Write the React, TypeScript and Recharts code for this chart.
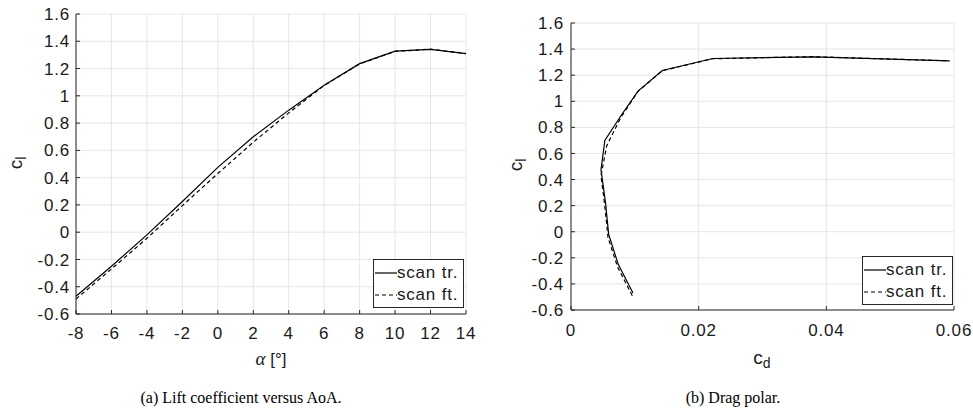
import React from "react"
import { CartesianGrid, Line, LineChart, XAxis, YAxis } from "recharts"

// angle of attack [deg]
const alpha = [-8, -6, -4, -2, 0, 2, 4, 6, 8, 10, 12, 14]
// lift coefficient, two scans
const clTr = [-0.47, -0.25, -0.02, 0.225, 0.475, 0.7, 0.895, 1.078, 1.236, 1.328, 1.34, 1.31]
const clFt = [-0.49, -0.27, -0.045, 0.195, 0.43, 0.66, 0.875, 1.076, 1.234, 1.326, 1.342, 1.31]
// drag coefficient, two scans
const cdTr = [0.0097, 0.0074, 0.0059, 0.0054, 0.0047, 0.0053, 0.0079, 0.0105, 0.0143, 0.0222, 0.038, 0.0593]
const cdFt = [0.0096, 0.0073, 0.0058, 0.0053, 0.0047, 0.0056, 0.0078, 0.0105, 0.0143, 0.0222, 0.0378, 0.0593]

const clTicks = [-0.6, -0.4, -0.2, 0, 0.2, 0.4, 0.6, 0.8, 1, 1.2, 1.4, 1.6]
const alphaTicks = [-8, -6, -4, -2, 0, 2, 4, 6, 8, 10, 12, 14]
const cdTicks = [0, 0.02, 0.04, 0.06]

const seriesNames = ["scan tr.", "scan ft."]

const liftData = alpha.map((a, i) => ({ alpha: a, tr: clTr[i], ft: clFt[i] }))
const polarTr = cdTr.map((cd, i) => ({ cd, cl: clTr[i] }))
const polarFt = cdFt.map((cd, i) => ({ cd, cl: clFt[i] }))

const SANS = '"Liberation Sans", Arial, Helvetica, sans-serif'
const SERIF = '"Liberation Serif", "Times New Roman", serif'
const AXIS = "#262626"
const GRID = "#e6e6e6"
const TXT = "#1a1a1a"
const DASH = "4 3"
const FS = 17

const fmt1 = (v: number) => String(Math.round(v * 10) / 10)
const fmt2 = (v: number) => String(Math.round(v * 100) / 100)

// custom tick text so size/spacing are exact
const BottomTick = (fmt: (v: number) => string) => (props: any) => {
  const { x, y, payload } = props
  return (
    <text
      x={x}
      y={y}
      dy={FS * 0.72}
      textAnchor="middle"
      fontFamily={SANS}
      fontSize={FS}
      letterSpacing={0.8}
      fill={TXT}
    >
      {fmt(payload.value)}
    </text>
  )
}

const LeftTick = (props: any) => {
  const { x, y, payload } = props
  return (
    <text
      x={x}
      y={y}
      dy={FS * 0.36}
      textAnchor="end"
      fontFamily={SANS}
      fontSize={FS}
      letterSpacing={0.8}
      fill={TXT}
    >
      {fmt1(payload.value)}
    </text>
  )
}

function LegendBox({ left, top }: { left: number; top: number }) {
  return (
    <div
      style={{
        position: "absolute",
        left,
        top,
        width: 91,
        height: 49,
        boxSizing: "border-box",
        border: `1px solid ${AXIS}`,
        background: "#fff",
        fontFamily: SANS,
        fontSize: FS,
        letterSpacing: 0.8,
        color: TXT,
        paddingTop: 2,
      }}
    >
      {seriesNames.map((name, i) => (
        <div key={name} style={{ display: "flex", alignItems: "center", height: 22 }}>
          <svg width={22} height={10} style={{ marginLeft: 1 }}>
            <line
              x1={0}
              x2={22}
              y1={5}
              y2={5}
              stroke="#000"
              strokeWidth={1.2}
              strokeDasharray={i === 1 ? DASH : undefined}
            />
          </svg>
          <span>{name}</span>
        </div>
      ))}
    </div>
  )
}

function YLabel({ left, top }: { left: number; top: number }) {
  return (
    <div
      style={{
        position: "absolute",
        left,
        top,
        transform: "translate(-50%, -50%) rotate(-90deg)",
        fontFamily: SANS,
        fontSize: 19,
        color: TXT,
        whiteSpace: "nowrap",
      }}
    >
      c<sub style={{ fontSize: 14 }}>l</sub>
    </div>
  )
}

const centered = (left: number, top: number): React.CSSProperties => ({
  position: "absolute",
  left,
  top,
  transform: "translate(-50%, -50%)",
  whiteSpace: "nowrap",
})

export default function App() {
  return (
    <div style={{ position: "absolute", left: 0, top: 0, width: 973, height: 412, background: "#fff" }}>
      <LineChart
        width={480}
        height={345}
        data={liftData}
        margin={{ top: 14, right: 14, left: 0, bottom: 0 }}
        style={{ position: "absolute", left: 0, top: 0 }}
      >
        <CartesianGrid stroke={GRID} />
        <XAxis
          dataKey="alpha"
          type="number"
          domain={[-8, 14]}
          ticks={alphaTicks}
          height={31}
          tick={BottomTick((v) => String(v))}
          tickSize={-4}
          tickMargin={17}
          stroke={AXIS}
          interval={0}
        />
        <YAxis
          type="number"
          domain={[-0.6, 1.6]}
          ticks={clTicks}
          width={76}
          tick={LeftTick}
          tickSize={-4}
          tickMargin={10}
          stroke={AXIS}
          interval={0}
        />
        <Line dataKey="tr" stroke="#000" strokeWidth={1.2} dot={false} isAnimationActive={false} />
        <Line
          dataKey="ft"
          stroke="#000"
          strokeWidth={1.2}
          strokeDasharray={DASH}
          dot={false}
          isAnimationActive={false}
        />
      </LineChart>

      <LineChart
        width={483}
        height={345}
        margin={{ top: 23, right: 19, left: 0, bottom: 0 }}
        style={{ position: "absolute", left: 490, top: 0 }}
      >
        <CartesianGrid stroke={GRID} />
        <XAxis
          dataKey="cd"
          type="number"
          domain={[0, 0.06]}
          ticks={cdTicks}
          height={35}
          tick={BottomTick(fmt2)}
          tickSize={-4}
          tickMargin={18}
          stroke={AXIS}
          interval={0}
          allowDataOverflow
        />
        <YAxis
          dataKey="cl"
          type="number"
          domain={[-0.6, 1.6]}
          ticks={clTicks}
          width={81}
          tick={LeftTick}
          tickSize={-4}
          tickMargin={11}
          stroke={AXIS}
          interval={0}
        />
        <Line data={polarTr} dataKey="cl" stroke="#000" strokeWidth={1.2} dot={false} isAnimationActive={false} />
        <Line
          data={polarFt}
          dataKey="cl"
          stroke="#000"
          strokeWidth={1.2}
          strokeDasharray={DASH}
          dot={false}
          isAnimationActive={false}
        />
      </LineChart>

      <LegendBox left={373} top={259} />
      <LegendBox left={862} top={256} />

      <YLabel left={17} top={163} />
      <YLabel left={517} top={165} />

      <div style={{ ...centered(271, 359), fontFamily: SANS, fontSize: FS, color: TXT }}>
        <span style={{ fontFamily: SERIF, fontStyle: "italic", fontSize: 19 }}>α</span> [°]
      </div>
      <div style={{ ...centered(762, 359), fontFamily: SANS, fontSize: 19, color: TXT }}>
        c<sub style={{ fontSize: 14 }}>d</sub>
      </div>

      <div style={{ ...centered(241, 398), fontFamily: SERIF, fontSize: 16, color: "#000" }}>
        (a) Lift coefficient versus AoA.
      </div>
      <div style={{ ...centered(733, 398), fontFamily: SERIF, fontSize: 16, color: "#000" }}>
        (b) Drag polar.
      </div>
    </div>
  )
}
